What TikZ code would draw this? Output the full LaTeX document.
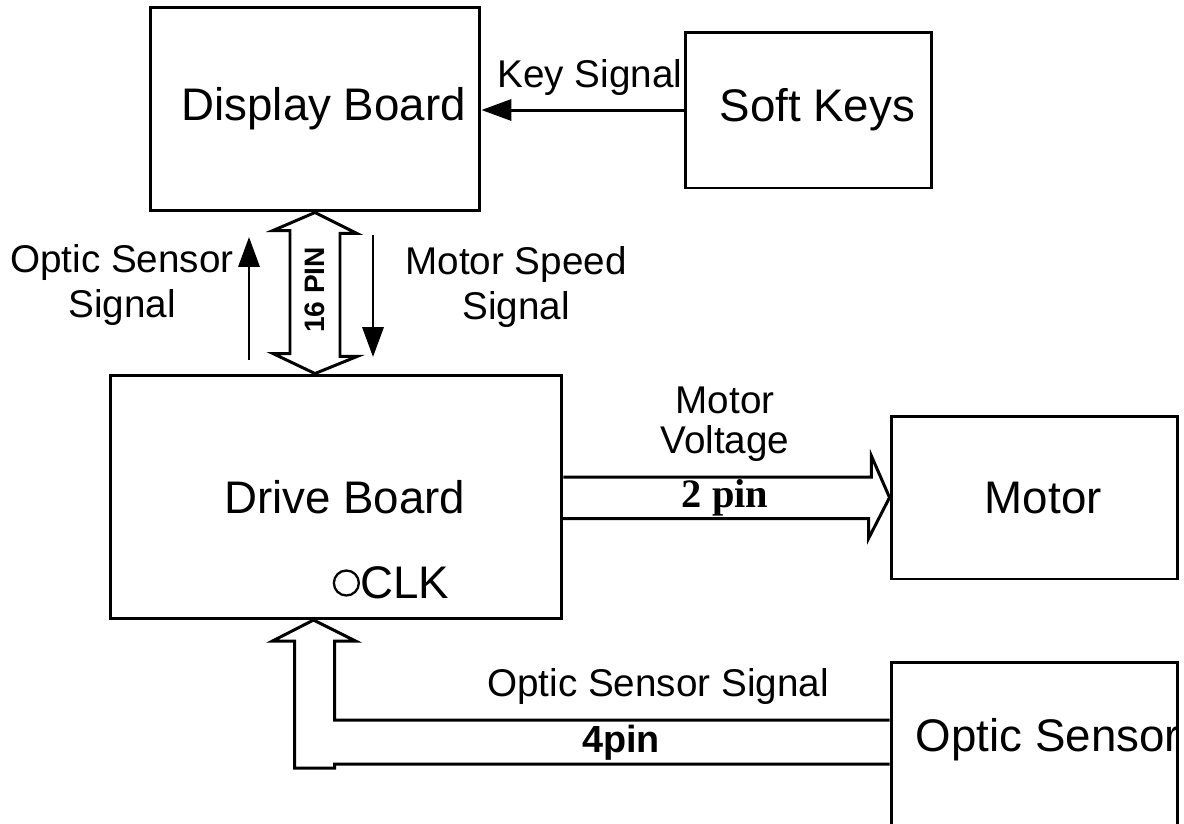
\documentclass[tikz,border=0pt]{standalone}
\usepackage{fontspec}
\setmainfont{Liberation Sans}
\newfontfamily\timesfont{Liberation Serif}
\usetikzlibrary{arrows.meta}

\begin{document}
\begin{tikzpicture}[
    x=0.02cm, y=-0.02cm,
    box/.style={draw, line width=1.7pt, inner sep=0pt, font=\fontsize{26}{30}\selectfont, execute at begin node=\hspace*{10pt}},
    lbl/.style={align=center, font=\fontsize{22}{26}\selectfont},
    sig/.style={-{Triangle[length=17pt, width=12pt]}, line width=1.7pt},
    bus/.style={line width=1.7pt, line join=miter}
]
\useasboundingbox (0,0) rectangle (1184,823);

\node[box, minimum width=6.6cm, minimum height=4.08cm] (disp) at (315,109) {Display Board};
\node[box, minimum width=4.94cm, minimum height=3.12cm] (soft) at (808.5,110) {Soft Keys};
\node[box, minimum width=9.04cm, minimum height=4.88cm] (drive) at (336,497) {Drive Board};
\node[box, minimum width=5.74cm, minimum height=3.26cm] (motor) at (1034.5,497.5) {Motor};
\node[box, minimum width=5.74cm, minimum height=3.6cm] (osens) at (1034.5,752) {};
\node[font=\fontsize{26}{30}\selectfont] (osenstxt) at (1048,740) {Optic Sensor};

\draw[sig] (soft.west) -- (soft.west -| disp.east);
\node[lbl] (keylbl) at (590,77) {Key Signal};

\coordinate (osig0) at (249,360);
\coordinate (osig1) at (249,237);
\draw[sig] (osig0) -- (osig1);
\node[lbl] (osiglbl) at (122,285) {Optic Sensor\\Signal};

\coordinate (mspd0) at (373,235);
\coordinate (mspd1) at (373,357);
\draw[sig] (mspd0) -- (mspd1);
\node[lbl] (mspdlbl) at (516,287) {Motor Speed\\Signal};

\draw[bus] (disp.south) -- ++(42,21) -- ++(-17,0) -- ++(0,123) -- ++(17,0) -- (drive.north -| disp.south)
    -- ++(-42,-20) -- ++(17,0) -- ++(0,-123) -- ++(-17,0) -- cycle;
\node[font=\bfseries\fontsize{16}{18}\selectfont, rotate=90] (pin16) at (315,290) {16 PIN};

\draw[bus] (drive.east) ++(0,-20) -- ++(308,0) -- ++(0,-21) -- (motor.west) -- ++(-21,41) -- ++(0,-20) -- ++(-308,0);
\node[lbl, font=\fontsize{22}{22.5}\selectfont] (mvlbl) at (725,424) {Motor\\Voltage};
\node[font=\timesfont\bfseries\fontsize{23}{26}\selectfont] (pin2) at (725,498) {2 pin};

\node[font=\fontsize{26}{30}\selectfont, inner sep=0pt, anchor=west] (clk) at (360,583) {CLK};
\node[circle, draw, line width=1.3pt, minimum size=0.5cm, inner sep=0pt, anchor=east] (clkpin) at (clk.west) {};

\draw[bus] (osens.west) ++(0,-32) -- ++(-555,0) -- ++(0,-79) -- ++(21,0) -- ++(-42,-21) -- ++(-41,21)
    -- ++(22,0) -- ++(0,127) -- ++(40,0) -- ++(0,-4) -- ++(555,0);
\node[lbl] (osiglbl2) at (658,686) {Optic Sensor Signal};
\node[font=\bfseries\fontsize{21.5}{24}\selectfont] (pin4) at (621,743) {4pin};

\end{tikzpicture}
\end{document}
